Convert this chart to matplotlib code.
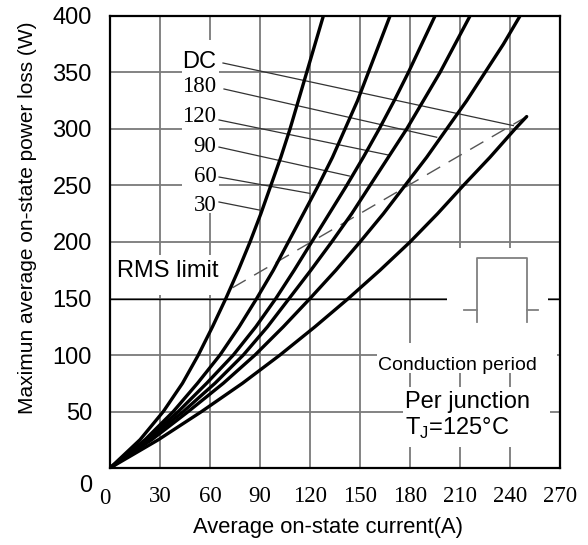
import matplotlib
matplotlib.use('Agg')
import matplotlib.pyplot as plt
from matplotlib.patches import Rectangle
from matplotlib.transforms import ScaledTranslation

# Valores: corriente media (A) para cada nivel de perdida (W)
potencia = [0, 25, 50, 75, 100, 125, 150, 175, 200, 225, 250, 275, 300, 325, 350, 375, 400]
i_30 = [0, 18, 32, 43.5, 53, 61.5, 69.5, 77, 84, 90.5, 96.5, 102.5, 108, 113, 118, 123, 128]
i_60 = [0, 21, 38, 52.5, 66, 77.5, 88, 98, 107, 116, 125, 133.5, 141, 148.5, 155, 161.5, 168]
i_90 = [0, 22, 41, 58, 74, 87.5, 99.5, 110.5, 121, 131.5, 142, 152, 161.5, 170.5, 179, 187, 195]
i_120 = [0, 23, 44, 63, 80, 94.5, 107.5, 120.5, 133, 145, 156, 167, 178, 188, 198, 207, 216]
i_180 = [0, 25, 47, 68, 87, 104, 120, 135.5, 150, 164, 177, 190, 202, 214, 225, 236, 246]
potencia_dc = [0, 25, 50, 75, 100, 125, 150, 175, 200, 225, 250, 275, 300, 311]
i_dc = [0, 29, 55, 79.5, 102, 123, 143, 162, 180, 196.5, 212, 228, 243, 250]

# limite RMS (linea discontinua)
rms_i = [73.5, 250]
rms_p = [159.5, 311]

etiquetas = ['DC', '180', '120', '90', '60', '30']
xticks = list(range(0, 271, 30))
yticks = list(range(0, 401, 50))

plt.rcParams['font.family'] = ['Liberation Sans', 'DejaVu Sans']
plt.rcParams['mathtext.fontset'] = 'custom'
plt.rcParams['mathtext.rm'] = 'Liberation Sans'

fig = plt.figure(figsize=(5.88, 5.45), dpi=100)
ax = fig.add_axes([110/588, 77/545, 450/588, 452/545])
ax.set_xlim(0, 270)
ax.set_ylim(0, 400)
ax.set_xticks(xticks)
ax.set_yticks(yticks)
ax.set_axisbelow(True)
ax.grid(color='#7a7a7a', lw=1.3)
ax.axhline(150, color='black', lw=1.0, zorder=0.6)
for s in ax.spines.values():
    s.set_linewidth(1.6)
ax.tick_params(length=0)
ax.tick_params(axis='y', pad=13, labelsize=17)
ax.tick_params(axis='x', pad=13, labelsize=16.5)
for lbl in ax.get_xticklabels():
    lbl.set_fontfamily('Liberation Serif')

# el "0" del eje y esta desplazado hacia abajo
t0 = ax.yaxis.get_major_ticks()[0].label1
t0.set_transform(t0.get_transform() + ScaledTranslation(0, -0.15, fig.dpi_scale_trans))
x0 = ax.xaxis.get_major_ticks()[0].label1
x0.set_transform(x0.get_transform() + ScaledTranslation(-0.05, -0.02, fig.dpi_scale_trans))

# zonas blancas que tapan la rejilla
blancos = [(43, 225.7, 22.4, 153), (0.8, 153, 70.5, 35.5),
           (202, 110, 61, 85), (160, 84, 108, 26.6), (176, 19, 88, 53)]
for x, y, w, h in blancos:
    ax.add_patch(Rectangle((x, y), w, h, facecolor='white', edgecolor='none', zorder=1))

# curvas
estilo = dict(color='black', lw=2.4, zorder=3, solid_capstyle='round', solid_joinstyle='round')
for ii in [i_30, i_60, i_90, i_120, i_180]:
    ax.plot(ii, potencia, **estilo)
ax.plot(i_dc, potencia_dc, **estilo)
ax.plot(rms_i, rms_p, color='#555555', lw=1.0, dashes=(11, 7), zorder=2.5)

# lineas guia de las etiquetas
guia_ini = [(67.8, 358.4), (68.4, 335.4), (65.4, 308), (65.4, 284), (65.4, 257.5), (65.4, 235.4)]
guia_fin = [(242, 303), (196, 292.7), (167, 277), (143.6, 258.4), (120, 243), (89.6, 228.3)]
base_y = [353.7, 333, 306.5, 280, 253.4, 227.4]
for txt, a, b, by in zip(etiquetas, guia_ini, guia_fin, base_y):
    ax.plot([a[0], b[0]], [a[1], b[1]], color='#333333', lw=0.9, zorder=2)
    fam = 'Liberation Sans' if txt == 'DC' else 'Liberation Serif'
    ax.text(63.8, by, txt, ha='right', va='baseline', fontsize=17 if txt == 'DC' else 16.5,
            family=fam, zorder=4)

ax.text(4.2, 169.3, 'RMS limit', fontsize=17, va='baseline', zorder=4)

# forma de onda de conduccion
gris = '#808080'
ax.plot([212.4, 220], [139.8, 139.8], color=gris, lw=1.3, zorder=2)
ax.plot([250, 256.6], [139.8, 139.8], color=gris, lw=1.3, zorder=2)
ax.plot([220, 220, 250, 250], [129.2, 185.8, 185.8, 129.2], color=gris, lw=1.3, zorder=2)

ax.text(160.6, 86.7, 'Conduction period', fontsize=14, va='baseline', zorder=4)
ax.text(177, 52.8, 'Per junction', fontsize=17, va='baseline', zorder=4)
ax.text(177, 29.2, 'T$_{\\mathregular{J}}$=125°C', fontsize=17, va='baseline', zorder=4)

fig.text(328/588, 1 - 527/545, 'Average on-state current(A)', ha='center', va='center', fontsize=15.8)
fig.text(28/588, 1 - 218/545, 'Maximun average on-state power loss (W)', ha='center', va='center',
         rotation=90, fontsize=15)

fig.savefig('out.png', dpi=100)
